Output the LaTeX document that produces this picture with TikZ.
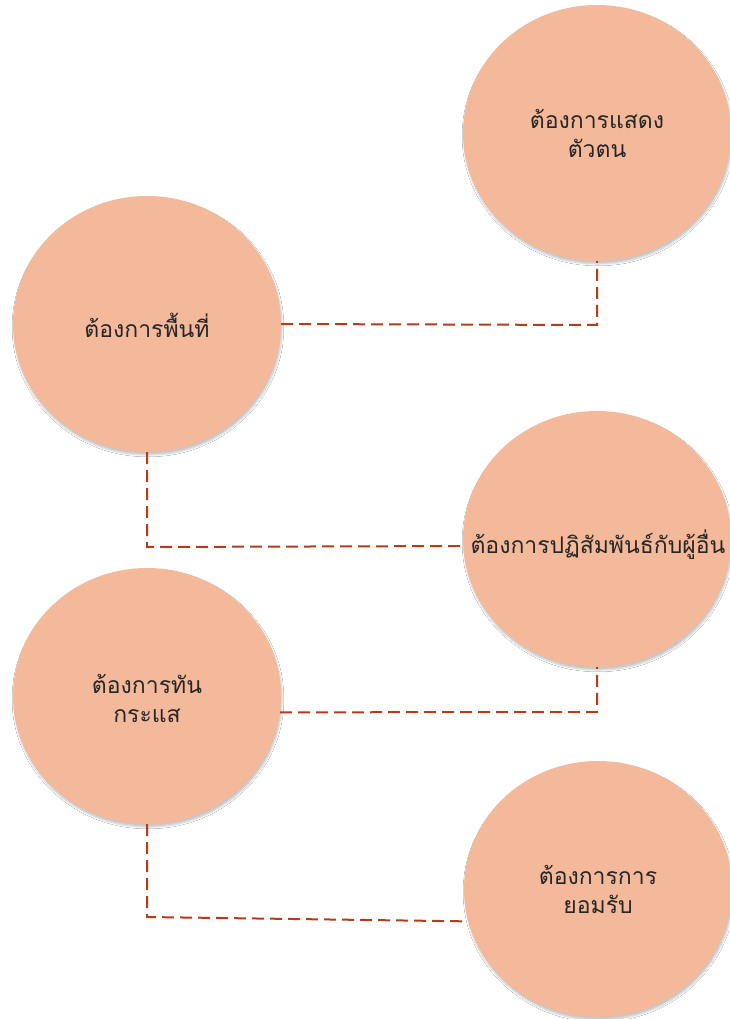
\documentclass[tikz,border=0pt]{standalone}
\usepackage{fontspec}
\newfontfamily\thaifont[Script=Thai]{Loma}
\usetikzlibrary{shapes.geometric,shadows.blur}
\definecolor{bubble}{HTML}{F4B99A}
\definecolor{link}{HTML}{B53B1B}
\begin{document}
\begin{tikzpicture}[x=1pt,y=-1pt,
  bubble/.style={ellipse,fill=bubble,minimum width=268pt,minimum height=256pt,inner sep=0pt,
    blur shadow={shadow xshift=1pt,shadow yshift=-3pt,shadow blur steps=6,shadow blur extra rounding=1.5pt,shadow opacity=22}},
  caption/.style={align=center,inner sep=0pt,font=\thaifont\fontsize{23}{29}\selectfont,text=black!85},
  linkline/.style={draw=link,line width=2pt,dash pattern=on 12pt off 6pt}]
\useasboundingbox (0,0) rectangle (729,1019);
\fill[white] (0,0) rectangle (729,1019);

% the five bubbles
\node[bubble] (c1) at (597,133) {};
\node[bubble] (c2) at (147,324) {};
\node[bubble] (c3) at (597,539) {};
\node[bubble] (c4) at (147,696) {};
\node[bubble] (c5) at (598,889) {};

% their captions
\node[caption] (t1) at (597,133) {ต้องการแสดง\\ตัวตน};
\node[caption] (t2) at (147,325) {ต้องการพื้นที่};
\node[caption] (t3) at (598,545) {ต้องการปฏิสัมพันธ์กับผู้อื่น};
\node[caption] (t4) at (147,698) {ต้องการทัน\\กระแส};
\node[caption] (t5) at (598,889) {ต้องการการ\\ยอมรับ};

% elbow points of the dashed links
\coordinate (k1) at (597,325);
\coordinate (k2) at (147,547);
\coordinate (k3) at (597,712);
\coordinate (k4) at (147,917);

\draw[linkline] (c2.east) -- (k1) -- (c1.south);
\draw[linkline] (c2.south) -- (k2) -- (c3.183);
\draw[linkline] (c4.-7) -- (k3) -- (c3.south);
\draw[linkline] (c4.south) -- (k4) -- (c5.194);
\end{tikzpicture}
\end{document}
